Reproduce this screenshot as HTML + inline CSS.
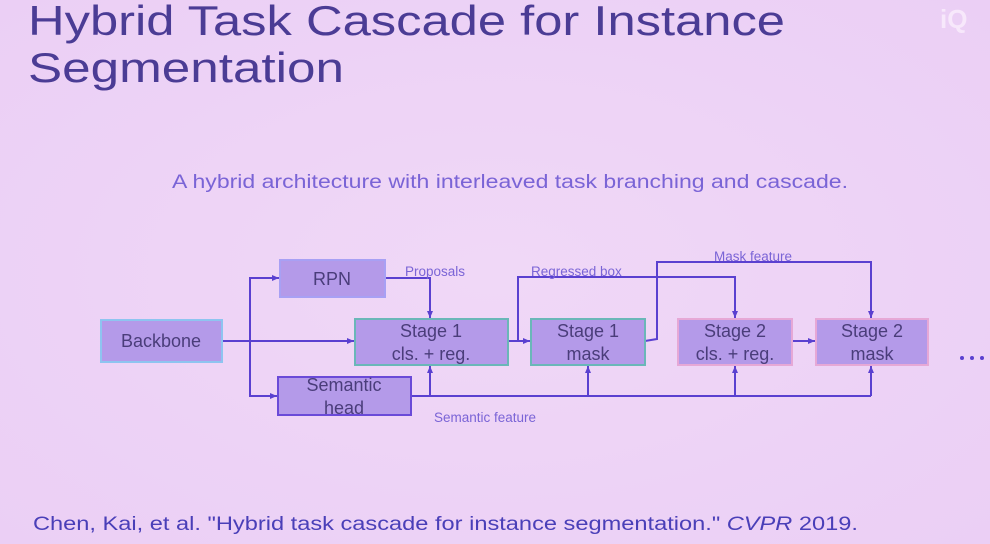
<!DOCTYPE html>
<html><head><style>
html,body{margin:0;padding:0;background:#efd3f6;}
svg{display:block;}
text{font-family:"Liberation Sans","DejaVu Sans",sans-serif;}
</style></head><body>
<svg width="990" height="544" viewBox="0 0 990 544" xmlns="http://www.w3.org/2000/svg">
<defs>
<radialGradient id="bg" cx="0.5" cy="0.5" r="0.7">
<stop offset="0" stop-color="#f0d8f7"/><stop offset="1" stop-color="#ebcff5"/>
</radialGradient>
<marker id="a" markerWidth="8" markerHeight="8" refX="7" refY="4" orient="auto" markerUnits="userSpaceOnUse">
<path d="M0,1 L7,4 L0,7 z" fill="#5a40d0"/></marker>
</defs>
<rect width="990" height="544" fill="url(#bg)"/>
<text x="28" y="35" font-size="42" fill="#4b3c95" textLength="757" lengthAdjust="spacingAndGlyphs" font-family="DejaVu Sans">Hybrid Task Cascade for Instance</text>
<text x="28" y="82" font-size="42" fill="#4b3c95" textLength="316" lengthAdjust="spacingAndGlyphs" font-family="DejaVu Sans">Segmentation</text>
<text x="940" y="28" font-size="26" fill="#f7e8fb" font-weight="bold">iQ</text>
<text x="172" y="188" font-size="19" fill="#7a64d6" textLength="676" lengthAdjust="spacingAndGlyphs">A hybrid architecture with interleaved task branching and cascade.</text>

<g stroke="#5a40d0" stroke-width="2" fill="none">
<line x1="222" y1="341" x2="354" y2="341" marker-end="url(#a)"/>
<polyline points="250,341 250,278 279,278" marker-end="url(#a)"/>
<polyline points="250,341 250,396 277,396" marker-end="url(#a)"/>
<polyline points="385,278 430,278 430,318" marker-end="url(#a)"/>
<line x1="508" y1="341" x2="530" y2="341" marker-end="url(#a)"/>
<polyline points="518,341 518,277 735,277 735,318" marker-end="url(#a)"/>
<polyline points="645,341 657,339 657,262 871,262 871,318" marker-end="url(#a)"/>
<line x1="792" y1="341" x2="815" y2="341" marker-end="url(#a)"/>
<line x1="411" y1="396" x2="871" y2="396"/>
<line x1="430" y1="396" x2="430" y2="366" marker-end="url(#a)"/>
<line x1="588" y1="396" x2="588" y2="366" marker-end="url(#a)"/>
<line x1="735" y1="396" x2="735" y2="366" marker-end="url(#a)"/>
<line x1="871" y1="396" x2="871" y2="366" marker-end="url(#a)"/>
</g>

<rect x="101" y="320" width="121" height="42" fill="#b49ae9" stroke="#8ec4f0" stroke-width="2"/>
<rect x="280" y="260" width="105" height="37" fill="#b49ae9" stroke="#a8a0f4" stroke-width="2"/>
<rect x="355" y="319" width="153" height="46" fill="#b49ae9" stroke="#6ab7b8" stroke-width="2"/>
<rect x="531" y="319" width="114" height="46" fill="#b49ae9" stroke="#6ab7b8" stroke-width="2"/>
<rect x="678" y="319" width="114" height="46" fill="#b49ae9" stroke="#e6a8d6" stroke-width="2"/>
<rect x="816" y="319" width="112" height="46" fill="#b49ae9" stroke="#e6a8d6" stroke-width="2"/>
<rect x="278" y="377" width="133" height="38" fill="#b49ae9" stroke="#6a4ad8" stroke-width="2"/>

<g font-size="18" fill="#4a3d7a" text-anchor="middle">
<text x="161" y="347">Backbone</text>
<text x="332" y="285">RPN</text>
<text x="431" y="337">Stage 1</text><text x="431" y="360">cls. + reg.</text>
<text x="588" y="337">Stage 1</text><text x="588" y="360">mask</text>
<text x="735" y="337">Stage 2</text><text x="735" y="360">cls. + reg.</text>
<text x="872" y="337">Stage 2</text><text x="872" y="360">mask</text>
<text x="344" y="391">Semantic</text><text x="344" y="414">head</text>
</g>
<g font-size="13.5" fill="#7a64d6">
<text x="405" y="276">Proposals</text>
<text x="531" y="276">Regressed box</text>
<text x="714" y="261">Mask feature</text>
<text x="434" y="422">Semantic feature</text>
</g>
<g fill="#5a40d0"><circle cx="962" cy="358" r="2"/><circle cx="972" cy="358" r="2"/><circle cx="982" cy="358" r="2"/></g>
<text x="33" y="530" font-size="19" fill="#4a3fb8" textLength="825" lengthAdjust="spacingAndGlyphs">Chen, Kai, et al. "Hybrid task cascade for instance segmentation." <tspan font-style="italic">CVPR</tspan> 2019.</text>
</svg>
</body></html>
